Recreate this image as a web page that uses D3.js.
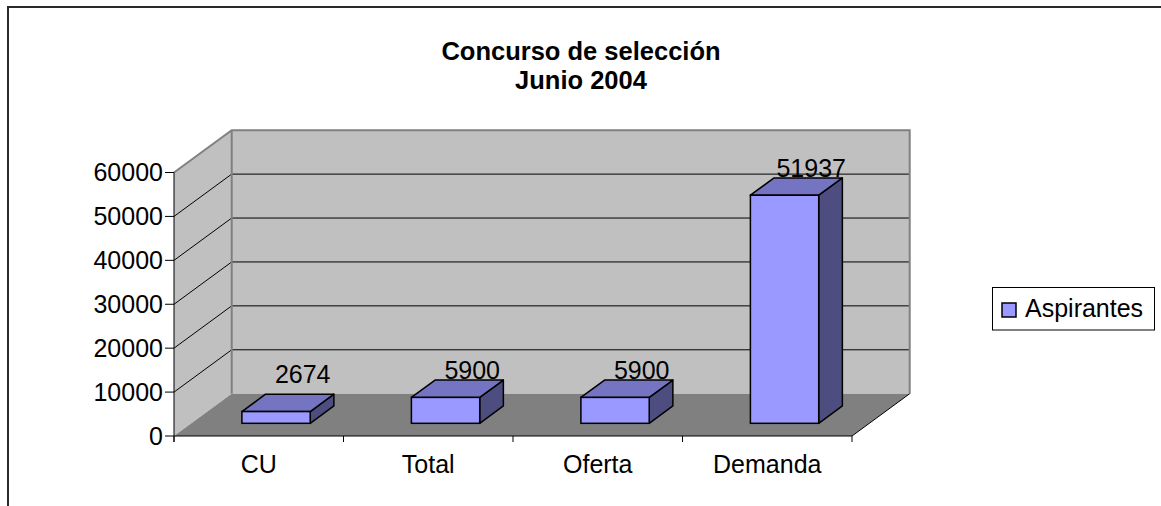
<!DOCTYPE html>
<html>
<head>
<meta charset="utf-8">
<script src="https://cdn.jsdelivr.net/npm/d3@7"></script>
<style>
  body { margin: 0; background: #fff; }
  svg { display: block; font-family: Arial, "Liberation Sans", sans-serif; }
</style>
</head>
<body>
<svg id="chart" width="1161" height="506"></svg>
<script>
// chart data
var categories = ["CU", "Total", "Oferta", "Demanda"];
var aspirantes = [2674, 5900, 5900, 51937];
var yTicks = [0, 10000, 20000, 30000, 40000, 50000, 60000];
var titleLines = ["Concurso de selección", "Junio 2004"];
var seriesName = "Aspirantes";

(function() {
    'use strict';

    var svg = d3.select("#chart");
    var fontSize = 25;

    // front plane of the 3d box
    var x = d3.scaleBand().domain(categories).range([174, 852]).padding(0);
    var y = d3.scaleLinear().domain([0, 60000]).range([436, 172.5]);

    // depth vector (t = 0 front, t = 1 back)
    var depth = {dx: 57.7, dy: -42.3};
    var barDepth = [0.3, 0.71];
    var barWidthRatio = 0.403;
    var labelFloor = 5000;

    function px(xv, t) { return xv + t * depth.dx; }
    function py(yv, t) { return yv + t * depth.dy; }
    function pts(a) { return a.map(function(p) { return p.join(","); }).join(" "); }

    var x0 = x.range()[0], x1 = x.range()[1];
    var yBase = y(0), yTop = y(60000);

    // outer chart-area border (cut off at right and bottom)
    svg.append("rect")
        .attr("x", 8).attr("y", 7)
        .attr("width", 1200).attr("height", 600)
        .attr("fill", "none")
        .attr("stroke", "#2a2a2a")
        .attr("stroke-width", 2);

    // title
    svg.append("text")
        .attr("x", 581)
        .attr("text-anchor", "middle")
        .attr("font-weight", "bold")
        .attr("font-size", 25.5)
        .selectAll("tspan").data(titleLines).enter().append("tspan")
        .attr("x", 581)
        .attr("y", function(d, i) { return 60 + i * 29; })
        .text(function(d) { return d; });

    var walls = svg.append("g");

    // back wall
    walls.append("rect")
        .attr("x", px(x0, 1)).attr("y", py(yTop, 1))
        .attr("width", x1 - x0).attr("height", yBase - yTop)
        .attr("fill", "#c0c0c0");

    // left wall
    walls.append("polygon")
        .attr("points", pts([[x0, yBase], [x0, yTop], [px(x0, 1), py(yTop, 1)], [px(x0, 1), py(yBase, 1)]]))
        .attr("fill", "#c0c0c0");

    // floor
    walls.append("polygon")
        .attr("points", pts([[x0, yBase], [x1, yBase], [px(x1, 1), py(yBase, 1)], [px(x0, 1), py(yBase, 1)]]))
        .attr("fill", "#808080");

    // gridlines on back + left walls
    var inner = yTicks.filter(function(v) { return v > 0 && v < 60000; });
    walls.selectAll("line.gridb").data(inner).enter().append("line")
        .attr("x1", px(x0, 1)).attr("x2", px(x1, 1))
        .attr("y1", function(d) { return py(y(d), 1); })
        .attr("y2", function(d) { return py(y(d), 1); })
        .attr("stroke", "#000").attr("stroke-width", 1);
    walls.selectAll("line.gridl").data(inner).enter().append("line")
        .attr("x1", x0).attr("x2", px(x0, 1))
        .attr("y1", function(d) { return y(d); })
        .attr("y2", function(d) { return py(y(d), 1); })
        .attr("stroke", "#000").attr("stroke-width", 1);

    // wall borders
    walls.append("polyline")
        .attr("points", pts([[x0, yTop], [px(x0, 1), py(yTop, 1)], [px(x1, 1), py(yTop, 1)], [px(x1, 1), py(yBase, 1)]]))
        .attr("fill", "none").attr("stroke", "#808080").attr("stroke-width", 2);
    walls.append("line")
        .attr("x1", px(x0, 1)).attr("x2", px(x0, 1))
        .attr("y1", py(yTop, 1)).attr("y2", py(yBase, 1))
        .attr("stroke", "#808080").attr("stroke-width", 2);

    // floor edges
    walls.append("polyline")
        .attr("points", pts([[x0, yBase], [x1, yBase], [px(x1, 1), py(yBase, 1)]]))
        .attr("fill", "none").attr("stroke", "#000").attr("stroke-width", 1);

    // value axis
    var axis = svg.append("g");
    axis.append("line")
        .attr("x1", x0).attr("x2", x0)
        .attr("y1", yTop).attr("y2", yBase + 6)
        .attr("stroke", "#000");
    axis.selectAll("line.tick").data(yTicks).enter().append("line")
        .attr("x1", x0 - 9).attr("x2", x0)
        .attr("y1", function(d) { return y(d); })
        .attr("y2", function(d) { return y(d); })
        .attr("stroke", "#000");
    axis.selectAll("text").data(yTicks).enter().append("text")
        .attr("x", x0 - 11)
        .attr("y", function(d) { return y(d) + fontSize * 0.355; })
        .attr("text-anchor", "end")
        .attr("font-size", fontSize)
        .text(function(d) { return d; });

    // category axis
    var bounds = categories.map(function(c) { return x(c); }).concat([x1]);
    axis.selectAll("line.ctick").data(bounds).enter().append("line")
        .attr("x1", function(d) { return d; }).attr("x2", function(d) { return d; })
        .attr("y1", yBase).attr("y2", yBase + 6)
        .attr("stroke", "#000");
    axis.selectAll("text.cat").data(categories).enter().append("text")
        .attr("class", "cat")
        .attr("x", function(d) { return x(d) + x.bandwidth() / 2; })
        .attr("y", 473)
        .attr("text-anchor", "middle")
        .attr("font-size", fontSize)
        .text(function(d) { return d; });

    // bars
    var bw = x.bandwidth() * barWidthRatio;
    var t0 = barDepth[0], t1 = barDepth[1];
    var bars = svg.append("g").selectAll("g").data(aspirantes).enter().append("g");

    function frontLeft(i) { return px(x(categories[i]) + x.bandwidth() / 2, t0) - bw / 2; }

    bars.each(function(v, i) {
        var g = d3.select(this);
        var l = frontLeft(i), r = l + bw;
        var b = py(y(0), t0), t = py(y(v), t0);
        var ddx = (t1 - t0) * depth.dx, ddy = (t1 - t0) * depth.dy;

        g.append("polygon")
            .attr("points", pts([[r, b], [r, t], [r + ddx, t + ddy], [r + ddx, b + ddy]]))
            .attr("fill", "#4d4d80").attr("stroke", "#000").attr("stroke-width", 1.5)
            .attr("stroke-linejoin", "round");
        g.append("polygon")
            .attr("points", pts([[l, t], [r, t], [r + ddx, t + ddy], [l + ddx, t + ddy]]))
            .attr("fill", "#7474c2").attr("stroke", "#000").attr("stroke-width", 1.5)
            .attr("stroke-linejoin", "round");
        g.append("rect")
            .attr("x", l).attr("y", t)
            .attr("width", bw).attr("height", b - t)
            .attr("fill", "#9999ff").attr("stroke", "#000").attr("stroke-width", 1.5);

        // value label above back-top edge
        var lv = Math.max(v, labelFloor);
        g.append("text")
            .attr("x", l + bw / 2 + ddx + 3)
            .attr("y", py(y(lv), t1) - 1)
            .attr("text-anchor", "middle")
            .attr("font-size", fontSize)
            .text(v);
    });

    // legend
    var legend = svg.append("g").attr("transform", "translate(992.5,287.5)");
    legend.append("rect")
        .attr("width", 162).attr("height", 42.5)
        .attr("fill", "#fff").attr("stroke", "#000");
    legend.append("rect")
        .attr("x", 9.5).attr("y", 15.5)
        .attr("width", 14).attr("height", 14)
        .attr("fill", "#9999ff").attr("stroke", "#000").attr("stroke-width", 1.5);
    legend.append("text")
        .attr("x", 32.5).attr("y", 29.5)
        .attr("font-size", fontSize)
        .text(seriesName);
})();
</script>
</body>
</html>
